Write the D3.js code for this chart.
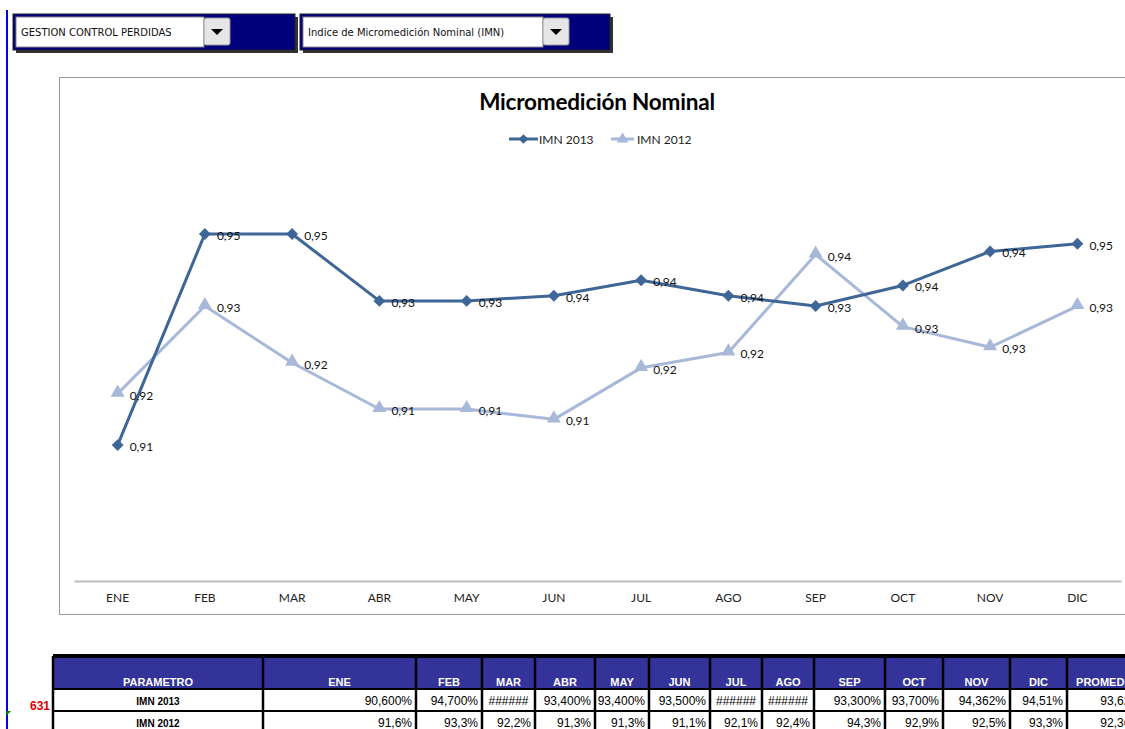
<!DOCTYPE html>
<html><head><meta charset="utf-8">
<script src="https://cdn.jsdelivr.net/npm/d3@7"></script>
<style>body{margin:0;background:#fff;overflow:hidden}svg{display:block}</style>
</head><body>
<script>
const months = ["ENE","FEB","MAR","ABR","MAY","JUN","JUL","AGO","SEP","OCT","NOV","DIC"];
const imn2013 = [0.906,0.947,0.947,0.934,0.934,0.935,0.938,0.935,0.933,0.937,0.9436,0.9451];
const imn2012 = [0.916,0.933,0.922,0.913,0.913,0.911,0.921,0.924,0.943,0.929,0.925,0.933];
const seriesNames = ["IMN 2013","IMN 2012"];
const tableHeader = ["PARAMETRO","ENE","FEB","MAR","ABR","MAY","JUN","JUL","AGO","SEP","OCT","NOV","DIC","PROMEDIO"];
const row2013 = ["IMN 2013","90,600%","94,700%","######","93,400%","93,400%","93,500%","######","######","93,300%","93,700%","94,362%","94,51%","93,62%"];
const row2012 = ["IMN 2012","91,6%","93,3%","92,2%","91,3%","91,3%","91,1%","92,1%","92,4%","94,3%","92,9%","92,5%","93,3%","92,36%"];
const rowNumber = "631";
const dropdowns = ["GESTION CONTROL PERDIDAS","Indice de Micromedición Nominal (IMN)"];

const W=1125,H=729;
const svg=d3.select("body").append("svg").attr("width",W).attr("height",H);

// left blue line
svg.append("rect").attr("x",6).attr("y",10).attr("width",2).attr("height",H-10).attr("fill","#0000ee");
svg.append("path").attr("d","M6,716 L11,711 L6,711 Z").attr("fill","#008000");

// dropdowns
const dd=[{x:13,w:282,fw:188,bx:204},{x:300,w:310,fw:240,bx:543}];
dd.forEach((d,i)=>{
  const g=svg.append("g");
  g.append("rect").attr("x",d.x+3).attr("y",17).attr("width",d.w).attr("height",36).attr("fill","#333");
  g.append("rect").attr("x",d.x).attr("y",14).attr("width",d.w).attr("height",36).attr("fill","#00007a").attr("stroke","#222").attr("stroke-width",1);
  g.append("rect").attr("x",d.x+3).attr("y",17).attr("width",d.fw).attr("height",30).attr("fill","#fff").attr("stroke","#888");
  g.append("rect").attr("x",d.bx).attr("y",18).attr("width",26).attr("height",27).attr("rx",2).attr("fill","#e6e6e6").attr("stroke","#999");
  const cx=d.bx+13,cy=32;
  g.append("path").attr("d",`M${cx-6},${cy-3} L${cx+6},${cy-3} L${cx},${cy+3} Z`).attr("fill","#000");
  g.append("text").attr("x",d.x+8).attr("y",36).attr("font-family","DejaVu Sans, sans-serif").attr("font-size",10).attr("fill","#111").text(dropdowns[i]);
});

// chart frame
svg.append("rect").attr("x",59.5).attr("y",77.5).attr("width",1080).attr("height",537).attr("fill","#fff").attr("stroke","#9a9a9a").attr("stroke-width",1);

const x=d3.scaleBand().domain(months).range([74,1121]).padding(0);
const cx=m=>x(m)+x.bandwidth()/2;
const y=d3.scaleLinear().domain([0.88,0.96]).range([579,167]);

// title
svg.append("text").attr("x",597).attr("y",110).attr("text-anchor","middle").attr("font-family","Lato, 'Open Sans', sans-serif").attr("font-weight","bold").attr("font-size",22.5).attr("letter-spacing",-0.2).attr("fill","#000").text("Micromedición Nominal");

const colors=["#3e6696","#a7b8d8"];
// legend
const leg=[{x1:509,x2:538,tx:539},{x1:611,x2:634,tx:637}];
leg.forEach((l,i)=>{
  const g=svg.append("g");
  g.append("line").attr("x1",l.x1).attr("x2",l.x2).attr("y1",139).attr("y2",139).attr("stroke",colors[i]).attr("stroke-width",3);
  const mx=(l.x1+l.x2)/2;
  if(i===0) g.append("path").attr("d",d3.symbol(d3.symbolDiamond2,60)()).attr("transform",`translate(${mx},139)`).attr("fill",colors[i]);
  else g.append("path").attr("d",d3.symbol(d3.symbolTriangle,60)()).attr("transform",`translate(${mx},139)`).attr("fill",colors[i]);
  g.append("text").attr("x",l.tx).attr("y",143.5).attr("font-family","Lato, 'Open Sans', sans-serif").attr("font-size",12).attr("fill","#222").text(seriesNames[i]);
});

// axis
const ax=svg.append("g").attr("transform","translate(0,581)").call(d3.axisBottom(x).tickSize(0).tickPadding(12));
ax.select(".domain").attr("stroke","#bdbdbd").attr("stroke-width",2);
ax.selectAll("text").attr("font-family","Lato, 'Open Sans', sans-serif").attr("font-size",12).attr("fill","#222");

// lines
const data=[imn2013,imn2012];
const line=d3.line().x((d,i)=>cx(months[i])).y(d=>y(d));
[1,0].forEach(k=>{
  svg.append("path").datum(data[k]).attr("d",line).attr("fill","none").attr("stroke",colors[k]).attr("stroke-width",3).attr("stroke-linejoin","round");
});
[1,0].forEach(k=>{
  const sym=k===0?d3.symbol(d3.symbolDiamond2,90):d3.symbol(d3.symbolTriangle,85);
  svg.append("g").selectAll("path").data(data[k]).join("path").attr("d",sym()).attr("transform",(d,i)=>`translate(${cx(months[i])},${y(d)+(k===1?-1:0)})`).attr("fill",colors[k]);
});
[0,1].forEach(k=>{
  svg.append("g").selectAll("text").data(data[k]).join("text")
    .attr("x",(d,i)=>cx(months[i])+12).attr("y",d=>y(d)+6)
    .attr("font-family","Lato, 'Open Sans', sans-serif").attr("font-size",12).attr("fill","#111")
    .text(d=>d3.format(".2f")(d).replace(".",","));
});

// table
const colEdges=[53,263,416,482,535,595,649,710,762,814,885,943,1010,1067,1145];
const rowEdges=[656,689,711,733];
const tg=svg.append("g").attr("font-family","'Liberation Sans', Arial, sans-serif").attr("font-weight","bold");
tg.append("rect").attr("x",53).attr("y",656).attr("width",1100).attr("height",33).attr("fill","#333399");
tableHeader.forEach((h,i)=>{
  tg.append("text").attr("x",(colEdges[i]+colEdges[i+1])/2).attr("y",686).attr("text-anchor","middle").attr("font-size",11).attr("fill","#fff").text(h);
});
[row2013,row2012].forEach((r,ri)=>{
  const yb=rowEdges[ri+1]+16;
  r.forEach((v,i)=>{
    if(i===0){
      tg.append("text").attr("x",(colEdges[0]+colEdges[1])/2).attr("y",yb).attr("text-anchor","middle").attr("font-size",10).attr("fill","#000").text(v);
    } else if(v.startsWith("#")){
      tg.append("text").attr("x",(colEdges[i]+colEdges[i+1])/2).attr("y",yb).attr("text-anchor","middle").attr("font-size",12).attr("font-weight","normal").attr("fill","#000").text(v);
    } else {
      tg.append("text").attr("x",colEdges[i+1]-4).attr("y",yb).attr("text-anchor","end").attr("font-size",12).attr("font-weight","normal").attr("fill","#000").text(v);
    }
  });
});
colEdges.forEach(cxe=>tg.append("line").attr("x1",cxe).attr("x2",cxe).attr("y1",656).attr("y2",H).attr("stroke","#000").attr("stroke-width",2.5));
rowEdges.forEach(ry=>tg.append("line").attr("x1",53).attr("x2",W).attr("y1",ry).attr("y2",ry).attr("stroke","#000").attr("stroke-width",ry===656?4:2));
tg.append("text").attr("x",50).attr("y",710).attr("text-anchor","end").attr("font-size",12).attr("fill","#e00000").text(rowNumber);
</script>
</body></html>
